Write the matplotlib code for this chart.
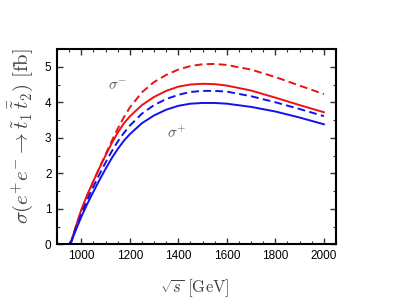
import matplotlib
matplotlib.use("Agg")
import matplotlib.pyplot as plt
from matplotlib.ticker import MultipleLocator

sqrt_s = [955, 975, 1000, 1025, 1050, 1075, 1100, 1125, 1150, 1175, 1200, 1250, 1300,
          1350, 1400, 1450, 1500, 1550, 1600, 1700, 1800, 1900, 2000]
red_solid = [0, 0.45, 0.97, 1.40, 1.78, 2.15, 2.50, 2.84, 3.14, 3.40, 3.60, 3.92, 4.15,
             4.32, 4.44, 4.50, 4.52, 4.51, 4.47, 4.33, 4.13, 3.92, 3.72]
red_dashed = [0, 0.43, 0.93, 1.37, 1.77, 2.16, 2.53, 2.90, 3.25, 3.57, 3.85, 4.28, 4.57,
              4.77, 4.92, 5.02, 5.07, 5.08, 5.05, 4.92, 4.71, 4.47, 4.23]
blue_dashed = [0, 0.40, 0.85, 1.25, 1.62, 1.97, 2.30, 2.61, 2.89, 3.13, 3.34, 3.68, 3.92,
               4.09, 4.21, 4.29, 4.32, 4.32, 4.30, 4.17, 4.00, 3.81, 3.61]
blue_solid = [0, 0.36, 0.77, 1.14, 1.48, 1.81, 2.12, 2.42, 2.68, 2.91, 3.10, 3.41, 3.63,
              3.79, 3.90, 3.96, 3.98, 3.98, 3.96, 3.87, 3.74, 3.57, 3.38]

plt.rcParams['mathtext.fontset'] = 'cm'
plt.rcParams['font.family'] = ['Liberation Sans', 'DejaVu Sans']
fig = plt.figure(figsize=(4.14, 3.02), dpi=100)
ax = fig.add_axes([57/414, 1-244.3/302, (336-57)/414, (244.3-49)/302])

lw = 1.4
ax.plot(sqrt_s, red_dashed, color='#ee1111', lw=lw, dashes=(4, 2.2))
ax.plot(sqrt_s, red_solid, color='#ee1111', lw=lw)
ax.plot(sqrt_s, blue_dashed, color='#1111ee', lw=lw, dashes=(4, 2.2))
ax.plot(sqrt_s, blue_solid, color='#1111ee', lw=lw)

ax.set_xlim(900, 2050)
ax.set_ylim(0, 5.5)
ax.xaxis.set_major_locator(MultipleLocator(200))
ax.xaxis.set_minor_locator(MultipleLocator(50))
ax.yaxis.set_major_locator(MultipleLocator(1))
ax.yaxis.set_minor_locator(MultipleLocator(0.5))
ax.tick_params(which='both', direction='in', top=True, right=True, labelsize=8.5,
               color='#333333')
ax.tick_params(which='major', length=4, width=1, pad=4)
ax.tick_params(which='minor', length=2.5, width=0.8)
for sp in ax.spines.values():
    sp.set_linewidth(1.5)

ax.text(1151, 4.45, r'$\sigma^{-}$', fontsize=11, color='#555555', ha='center', va='center')
ax.text(1395, 3.15, r'$\sigma^{+}$', fontsize=11, color='#555555', ha='center', va='center')

fig.text(195/414, 1-288/302, r'$\sqrt{s}\ [\mathrm{GeV}]$', fontsize=12, ha='center', va='center',
         color='#444444')
fig.text(21/414, 1-136.5/302, r'$\sigma(e^{+}e^{-}\to\tilde{t}_1\,\bar{\tilde{t}}_2)\ [\mathrm{fb}]$',
         fontsize=15, rotation=90, ha='center', va='center', color='#444444')

fig.savefig('out.png', dpi=100)
